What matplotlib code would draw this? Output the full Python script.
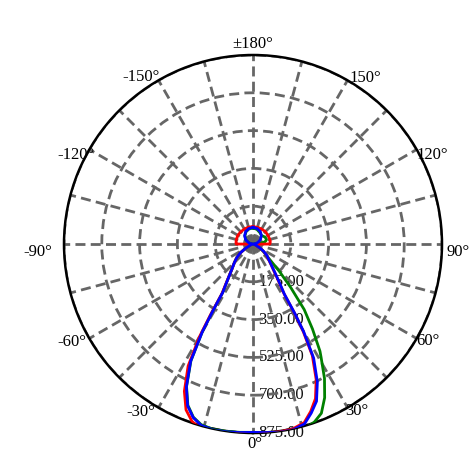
import numpy as np
import matplotlib
matplotlib.use("Agg")
import matplotlib.pyplot as plt

plt.rcParams["font.family"] = ["Liberation Serif", "DejaVu Serif"]

# -----------------------
# Data (angle in degrees, intensity)
# -----------------------
angles = [-180, -165, -150, -135, -120, -105, -95, -90, -85, -75, -60, -55, -50,
          -45, -40, -35, -32, -31, -30, -28, -25, -22, -19, -16, -12, -8, -4, 0,
          4, 8, 12, 16, 19, 22, 25, 28, 30, 31, 32, 35, 38, 41, 44, 47, 50, 55,
          60, 75, 85, 90, 95, 100, 105, 110, 120, 135, 150, 165, 180]

red_r = [80, 81, 80, 80, 81, 80, 79, 78, 10, 8, 40, 72, 98,
         122, 152, 210, 272, 380, 495, 640, 752, 828, 868, 888, 893, 885, 880, 876,
         876, 878, 876, 860, 820, 772, 692, 585, 460, 372, 270, 200, 155, 128, 108, 93, 83, 60,
         40, 8, 10, 78, 80, 81, 80, 80, 80, 81, 80, 80, 80]

green_r = [74, 72, 65, 53, 38, 19, 6, 2, 3, 8, 40, 72, 98,
           122, 152, 208, 265, 360, 470, 612, 728, 805, 848, 870, 878, 876, 874, 872,
           875, 880, 884, 886, 872, 845, 785, 705, 640, 612, 585, 480, 385, 265, 175, 108, 80, 55,
           35, 10, 4, 3, 30, 55, 63, 66, 64, 56, 62, 70, 74]

blue_r = [77, 74, 67, 55, 39, 20, 7, 2, 3, 8, 40, 72, 98,
          122, 152, 208, 265, 360, 470, 615, 730, 808, 850, 873, 880, 878, 875, 872,
          875, 880, 880, 866, 828, 785, 705, 598, 470, 380, 275, 205, 160, 130, 110, 95, 85, 62,
          40, 8, 3, 2, 7, 13, 20, 26, 39, 55, 67, 74, 77]

ring_values = [175, 350, 525, 700, 875]
ring_labels = ["175.00", "350.00", "525.00", "700.00", "875.00"]
r_max = 875

angle_labels = ["0°", "30°", "60°", "90°", "120°", "150°", "±180°",
                "-150°", "-120°", "-90°", "-60°", "-30°"]
# where each angle label sits: (direction in degrees, distance in px from centre)
label_spots = [(0.6, 200), (31.9, 197), (61, 200), (87.8, 205), (116.4, 200),
               (145.9, 201), (180, 200), (-146.2, 201), (-116.7, 198),
               (-87.9, 215), (-61.6, 206), (-33.8, 202)]

# -----------------------
# Figure
# -----------------------
fig = plt.figure(figsize=(4.72, 4.72), dpi=100)
radius_px = 189
ax = fig.add_axes([64 / 472, 39 / 472, 378 / 472, 378 / 472], projection="polar")
ax.set_theta_zero_location("S")
ax.set_theta_direction(1)
ax.set_ylim(0, r_max)

grid_kw = dict(color="#666666", linewidth=2.0, linestyle=(0, (3.6, 1.9)))
ax.set_xticks(np.deg2rad(np.arange(0, 360, 15)))
ax.set_yticks(ring_values)
ax.set_xticklabels([])
ax.set_yticklabels([])
ax.grid(True, **grid_kw)
ax.spines["polar"].set_color("black")
ax.spines["polar"].set_linewidth(1.8)

th = np.deg2rad(angles)
ax.plot(th, green_r, color="#008000", linewidth=2.0, zorder=5)
ax.plot(th, red_r, color="#ff0000", linewidth=2.0, zorder=6)
ax.plot(th, blue_r, color="#0000ff", linewidth=2.0, zorder=7)

# radial labels along the 0° direction
for val, lab in zip(ring_values, ring_labels):
    ax.annotate(lab, xy=(0, val), xytext=(4.0, 0), textcoords="offset points",
                ha="left", va="center", fontsize=12, color="#101010", zorder=1)

# angle labels round the outside
for lab, (deg, dist) in zip(angle_labels, label_spots):
    ax.text(np.deg2rad(deg), dist / radius_px * r_max, lab, ha="center",
            va="center", fontsize=12, clip_on=False)

plt.savefig("out.png", dpi=100)
